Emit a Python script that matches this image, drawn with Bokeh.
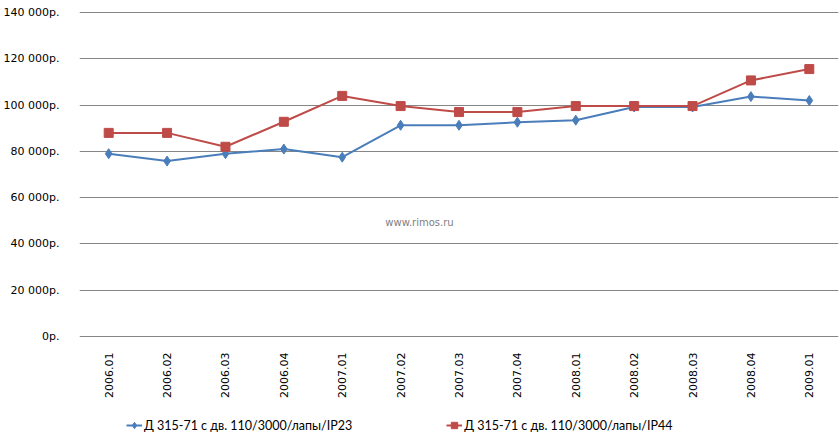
from bokeh.plotting import figure
from bokeh.models import ColumnDataSource, FactorRange, Legend, LegendItem, FixedTicker, Label, Range1d
from bokeh.layouts import column
from bokeh.embed import file_html
from bokeh.resources import INLINE
import math

categories = ["2006.01", "2006.02", "2006.03", "2006.04", "2007.01", "2007.02", "2007.03",
              "2007.04", "2008.01", "2008.02", "2008.03", "2008.04", "2009.01"]
ip23 = [79000, 75800, 79000, 81000, 77500, 91300, 91300, 92600, 93500, 99200, 99200, 103700, 102000]
ip44 = [88000, 88000, 82000, 92800, 104000, 99600, 97000, 97000, 99600, 99600, 99600, 110700, 115600]
name23 = "Д 315-71 с дв. 110/3000/лапы/IP23"
name44 = "Д 315-71 с дв. 110/3000/лапы/IP44"
y_ticks = [0, 20000, 40000, 60000, 80000, 100000, 120000, 140000]
y_labels = ["0р.", "20 000р.", "40 000р.", "60 000р.", "80 000р.", "100 000р.", "120 000р.", "140 000р."]
watermark = "www.rimos.ru"

BLUE = "#4A7EBB"
RED = "#BE4B48"

p = figure(width=840, height=414, x_range=FactorRange(factors=categories, range_padding=0),
           y_range=Range1d(-500, 140500), output_backend="svg", toolbar_location=None,
           min_border_left=78, min_border_right=2, min_border_top=11, min_border_bottom=77)
p.outline_line_color = None
p.background_fill_color = "white"
p.border_fill_color = "white"

src = ColumnDataSource(dict(x=categories, a=ip23, b=ip44))
l1 = p.line("x", "a", source=src, line_color=BLUE, line_width=2)
s1 = p.scatter("x", "a", source=src, marker="diamond", size=10, fill_color=BLUE, line_color=BLUE)
l2 = p.line("x", "b", source=src, line_color=RED, line_width=2)
s2 = p.scatter("x", "b", source=src, marker="square", size=9, fill_color=RED, line_color=RED)

p.yaxis.ticker = FixedTicker(ticks=y_ticks)
p.yaxis.major_label_overrides = {t: l for t, l in zip(y_ticks, y_labels)}
p.yaxis.axis_line_color = None
p.yaxis.major_tick_line_color = None
p.yaxis.minor_tick_line_color = None
p.yaxis.major_label_standoff = 14
p.yaxis.major_label_text_font = "DejaVu Sans"
p.yaxis.major_label_text_font_size = "11px"
p.yaxis.major_label_text_color = "#000000"

p.xaxis.axis_line_color = None
p.xaxis.major_tick_line_color = None
p.xaxis.minor_tick_line_color = None
p.xaxis.major_label_orientation = math.pi / 2
p.xaxis.major_label_standoff = 9
p.xaxis.major_label_text_font = "DejaVu Sans"
p.xaxis.major_label_text_font_size = "11px"
p.xaxis.major_label_text_color = "#000000"

p.xgrid.grid_line_color = None
p.ygrid.grid_line_color = "#868686"
p.ygrid.grid_line_width = 1

p.add_layout(Label(x=340, y=115, x_units="screen", y_units="screen", text=watermark,
                   text_font="DejaVu Sans", text_font_size="10px", text_color="#808080",
                   text_align="center", text_baseline="middle"))

# legend strip (series drawn out of view; only the legend shows)
p2 = figure(width=840, height=28, x_range=FactorRange(factors=categories, range_padding=0),
            y_range=Range1d(0, 1),
            output_backend="svg", toolbar_location=None,
            x_axis_location=None, y_axis_location=None,
            min_border_left=0, min_border_right=0, min_border_top=0, min_border_bottom=0)
p2.outline_line_color = None
p2.xgrid.grid_line_color = None
p2.ygrid.grid_line_color = None
k1 = p2.line("x", "a", source=src, line_color=BLUE, line_width=2)
k1s = p2.scatter("x", "a", source=src, marker="diamond", size=8, fill_color=BLUE, line_color=BLUE)
k2 = p2.line("x", "b", source=src, line_color=RED, line_width=2)
k2s = p2.scatter("x", "b", source=src, marker="square", size=8, fill_color=RED, line_color=RED)

legend = Legend(items=[LegendItem(label=name23, renderers=[k1, k1s]),
                       LegendItem(label=name44, renderers=[k2, k2s])],
                orientation="horizontal", location=(47, 7),
                label_text_font="Lato", label_text_font_size="12.5px", label_text_color="#000000",
                border_line_color=None, background_fill_alpha=0,
                spacing=94, glyph_width=16, label_standoff=2, margin=0, padding=0)
p2.add_layout(legend, "center")

open("out.html", "w").write(file_html(column(p, p2, spacing=0), INLINE))
